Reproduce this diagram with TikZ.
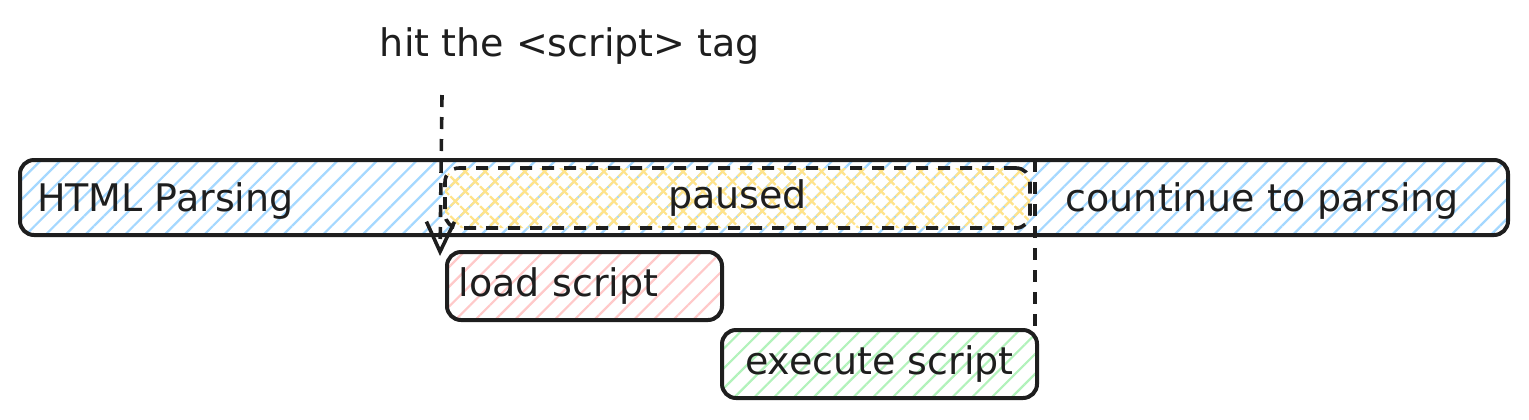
\documentclass[tikz,border=0pt]{standalone}
\usepackage{fontspec}
\setmainfont{DejaVu Sans}
\usetikzlibrary{arrows.meta, patterns.meta}

\definecolor{hatchblue}{HTML}{A5D8FF}
\definecolor{hatchyellow}{HTML}{FFE38A}
\definecolor{hatchred}{HTML}{FFC9C9}
\definecolor{hatchgreen}{HTML}{B2F2BB}
\definecolor{inkdark}{HTML}{1E1E1E}

\begin{document}
\begin{tikzpicture}[x=0.5pt, y=-0.5pt,
    every node/.style={font=\fontsize{19}{23}\selectfont, text=inkdark},
    hatch/.style={pattern={Lines[angle=45,distance=7pt,line width=1.1pt]}, pattern color=#1},
    phase/.style={draw=inkdark, line width=2pt, rounded corners=7pt, inner sep=0pt},
    dashline/.style={draw=inkdark, line width=1.8pt, dash pattern=on 6pt off 5pt}]
    \useasboundingbox (0,0) rectangle (1529,419);
    % main timeline
    \node[phase, hatch=hatchblue, minimum width=744pt, minimum height=37.5pt] (bar) at (764,197.5) {};
    \node[anchor=west] (htmlParse) at (30,201) {HTML Parsing};
    \node[anchor=east] (keepParse) at (1466,201) {countinue to parsing};
    \node[dashline, rounded corners=7pt, minimum width=292.5pt, minimum height=30pt, inner sep=0pt,
          preaction={pattern={Lines[angle=45,distance=7pt,line width=1.1pt]}, pattern color=hatchyellow},
          pattern={Lines[angle=-45,distance=7pt,line width=1.1pt]}, pattern color=hatchyellow] (paused) at (737.5,198) {paused};
    % script work
    \node[phase, hatch=hatchred, minimum width=137.5pt, minimum height=34pt, text width=126pt, align=left] (load) at (584.5,286) {load script};
    \node[phase, hatch=hatchgreen, minimum width=157.5pt, minimum height=34pt] (execute) at (879.5,364) {execute script};
    % markers
    \node (hit) at (570,46) {hit the <script> tag};
    \coordinate (hitTop) at (442,95);
    \coordinate (hitEnd) at (440,256);
    \coordinate (resumeTop) at (1035,160);
    \draw[dashline, -{Straight Barb[length=15pt, width=14pt, line width=1.8pt]}] (hitTop) -- (hitEnd);
    \draw[dashline] (resumeTop) -- (resumeTop |- execute.north);
\end{tikzpicture}
\end{document}
